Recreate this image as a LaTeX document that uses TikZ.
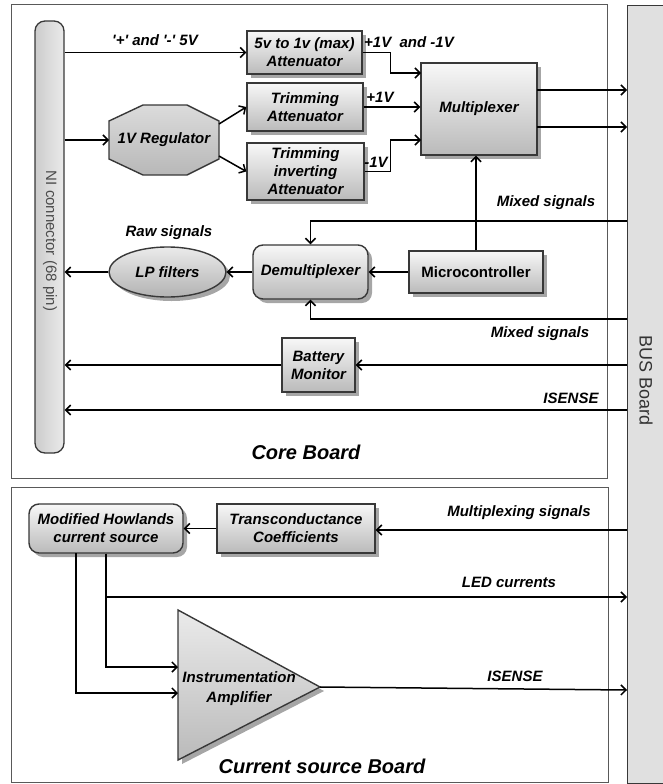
\documentclass[tikz,border=0pt]{standalone}
\usepackage{fontspec}
\setmainfont{Liberation Sans}
\usetikzlibrary{arrows.meta,shapes.geometric,shadows,calc}
\newcommand\bxfont{\fontsize{15}{18}\selectfont\bfseries\itshape}
\newcommand\bgfont{\fontsize{20}{22}\selectfont\bfseries\itshape}
\definecolor{edgec}{gray}{0.22}
\definecolor{framec}{gray}{0.35}
\tikzset{
  arr/.style={line width=1.5pt, -{Straight Barb[length=5pt,width=10pt]}},
  frm/.style={draw=framec, line width=1pt},
  shd/.style={drop shadow={shadow xshift=4pt, shadow yshift=-4pt, fill=black!35, opacity=1}},
  bx/.style={draw=edgec, line width=1.4pt, top color=black!3, bottom color=black!27, shd, font=\bxfont, align=center, inner sep=1pt},
  rbx/.style={bx, rounded corners=10pt},
  lbl/.style={font=\bxfont, align=center, inner sep=0pt},
}
\begin{document}
\begin{tikzpicture}[x=1pt,y=-1pt]
\useasboundingbox (0,0) rectangle (663,784);
% board frames
\draw[frm] (11,5) rectangle (607,478);
\draw[frm] (11,487) rectangle (608,782);
% BUS board
\node[draw=edgec, line width=1.3pt, fill=black!12, minimum width=46pt, minimum height=778pt, anchor=north west, inner sep=0pt] (bus) at (627,5) {};
\node[rotate=-90, font=\fontsize{18}{20}\selectfont, text=black!80] (bustxt) at (646,381) {BUS Board};
% NI connector
\node[draw=edgec, line width=1.3pt, left color=black!20, right color=black!8, rounded corners=10pt, minimum width=29pt, minimum height=432pt, inner sep=0pt] (ni) at (49.5,237) {};
\node[rotate=-90, font=\fontsize{15}{16}\selectfont, text=black!70] (nitxt) at (50,241) {NI connector (68 pin)};
% core board blocks
\node[bx, minimum width=115pt, minimum height=43pt] (att5) at (304.5,52.5) {5v to 1v (max)\\Attenuator};
\node[bx, minimum width=116pt, minimum height=48pt] (trimA) at (305,107) {Trimming\\Attenuator};
\node[bx, minimum width=117pt, minimum height=57pt] (trimI) at (305.5,171.5) {Trimming\\inverting\\Attenuator};
\node[bx, minimum width=116pt, minimum height=92pt] (mux) at (479,109) {Multiplexer};
\node[bx, font=\fontsize{15}{18}\selectfont\bfseries, minimum width=134pt, minimum height=42pt] (micro) at (476,272) {Microcontroller};
\node[rbx, minimum width=115pt, minimum height=54pt] (demux) at (310.5,272) {Demultiplexer};
\node[bx, ellipse, top color=black!8, bottom color=black!30, minimum width=117pt, minimum height=50pt, inner sep=0pt] (lp) at (167.5,272) {LP filters};
\node[bx, minimum width=73pt, minimum height=54pt] (batt) at (318.5,365) {Battery\\Monitor};
% regulator octagon
\path[draw=edgec, line width=1.4pt, top color=black!14, bottom color=black!28] (109,121) -- (143,105) -- (187,105) -- (219,121) -- (219,159) -- (187,175) -- (143,175) -- (109,159) -- cycle;
\node[lbl] (reg) at (164,140) {1V Regulator};
\coordinate (regW) at (109,140);
\coordinate (regA) at (219,124);
\coordinate (regB) at (219,156);
% core board connectors
\draw[arr] (ni.east |- att5.west) -- (att5.west);
\draw[arr] (ni.east |- regW) -- (regW);
\draw[arr] (regA) -- (trimA.west);
\draw[arr] (regB) -- (trimI.west);
\coordinate (mx1) at (421,73);
\coordinate (mx3) at (421,140);
\draw[arr] (att5.east) -- +(28,0) |- (mx1);
\draw[arr] (trimA.east) -- (trimA.east -| mux.west);
\draw[arr] (trimI.east) -- +(26,0) |- (mx3);
\coordinate (mo1) at (537,90);
\coordinate (mo2) at (537,127);
\draw[arr] (mo1) -- (mo1 -| bus.west);
\draw[arr] (mo2) -- (mo2 -| bus.west);
\draw[arr] (micro.north) -- (micro.north |- mux.south);
\draw[arr] (micro.west) -- (demux.east);
\coordinate (ms1) at (627,221);
\coordinate (ms2) at (627,319);
\draw[arr] (ms1) -| (demux.north);
\draw[arr] (ms2) -| (demux.south);
\draw[arr] (demux.west) -- (lp.east);
\draw[arr] (lp.west) -- (ni.east |- lp.west);
\coordinate (bt) at (627,365);
\draw[arr] (bt) -- (batt.east);
\draw[arr] (batt.west) -- (ni.east |- batt.west);
\coordinate (is1) at (627,410);
\draw[arr] (is1) -- (ni.east |- is1);
% core labels
\node[lbl] (l5v) at (155,40) {\textquotesingle+\textquotesingle\ and \textquotesingle-\textquotesingle\ 5V};
\node[lbl] (l1v) at (409,42) {+1V\ \ and -1V};
\node[lbl] (lp1) at (380,97) {+1V};
\node[lbl] (lm1) at (376,162) {-1V};
\node[lbl] (lms1) at (546,203) {Mixed signals};
\node[lbl] (lraw) at (169,233) {Raw signals};
\node[lbl] (lms2) at (540,334) {Mixed signals};
\node[lbl] (lis1) at (571,398) {ISENSE};
\node[font=\bgfont] (core) at (306,452) {Core Board};
% current source board
\node[rbx, minimum width=154pt, minimum height=49pt] (howl) at (106,528.5) {Modified Howlands\\current source};
\node[bx, minimum width=158pt, minimum height=49pt] (trans) at (296,528.5) {Transconductance\\Coefficients};
\path[fill=black!35] (182,614) -- (182,764) -- (324,691) -- cycle;
\path[draw=edgec, line width=1.4pt, top color=black!8, bottom color=black!27] (178,610) -- (178,760) -- (320,687) -- cycle;
\node[lbl, font=\fontsize{15}{20}\selectfont\bfseries\itshape] (amp) at (239,689) {Instrumentation\\Amplifier};
\coordinate (ampT) at (320,687);
\coordinate (ampI1) at (178,667);
\coordinate (ampI2) at (178,693);
\coordinate (mp) at (627,530);
\coordinate (led) at (627,597);
\coordinate (isb) at (627,690);
\coordinate (hB) at (76,553);
\draw[arr] (mp) -- (mp -| trans.east);
\draw[arr] (trans.west) -- (trans.west -| howl.east);
\draw[arr] (howl.south) |- (led);
\draw[arr] (howl.south) |- (ampI1);
\draw[arr] (hB) |- (ampI2);
\draw[arr] (ampT) -- (isb);
\node[lbl] (lmp) at (519,513) {Multiplexing signals};
\node[lbl] (lled) at (509,582) {LED currents};
\node[lbl] (lis2) at (515,676) {ISENSE};
\node[font=\bgfont] (csb) at (322,766) {Current source Board};
\end{tikzpicture}
\end{document}
